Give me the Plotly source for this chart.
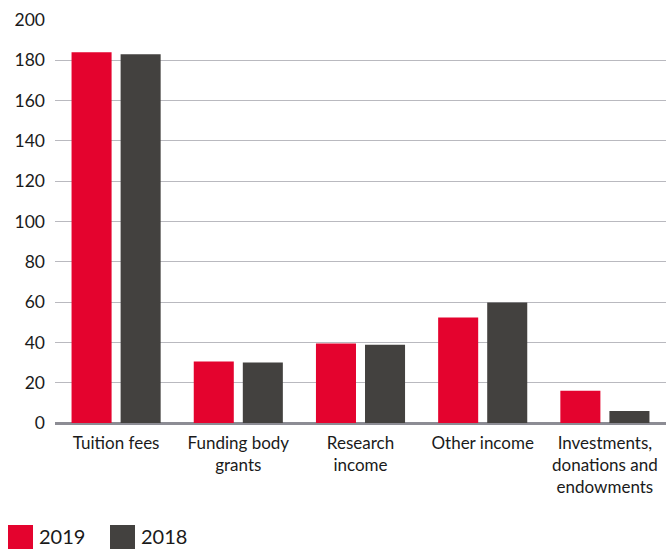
import plotly.graph_objects as go

categories = ["Tuition fees", "Funding body<br>grants", "Research<br>income",
              "Other income", "Investments,<br>donations and<br>endowments"]
values_2019 = [184, 30.5, 39.5, 52.3, 16]
values_2018 = [183, 30, 38.8, 59.8, 6]
series_names = ["2019", "2018"]
colors = ["#E4032E", "#43413F"]
y_ticks = [0, 20, 40, 60, 80, 100, 120, 140, 160, 180, 200]

fig = go.Figure()
for name, vals, col in zip(series_names, [values_2019, values_2018], colors):
    fig.add_trace(go.Bar(x=categories, y=vals, name=name, marker_color=col,
                         marker_line_width=0, showlegend=False))

FONT = "Lato, 'Open Sans', sans-serif"
fig.update_layout(
    width=666, height=549,
    margin=dict(l=55, r=0, t=20, b=126),
    paper_bgcolor="white", plot_bgcolor="white",
    barmode="group", bargap=0.197, bargroupgap=0.184,
    font=dict(family=FONT, color="#1a1a1a", size=17),
    xaxis=dict(showgrid=False, showline=False, ticks="", tickfont=dict(size=17),
               ticklabelstandoff=8),
    yaxis=dict(range=[0, 200], tickvals=y_ticks, showgrid=True, gridcolor="#b9b9bf",
               gridwidth=1.3, zeroline=True, zerolinecolor="#8c8c94", zerolinewidth=2.5,
               tickfont=dict(size=17.5), ticklabelstandoff=9, fixedrange=True),
)

# custom legend (large square swatches)
W, H = 611, 403
def px_x(x):
    return (x - 55) / W
def px_y(y):
    return (423 - y) / H

legend_x = [8, 110]
for name, col, lx in zip(series_names, colors, legend_x):
    fig.add_shape(type="rect", xref="paper", yref="paper",
                  x0=px_x(lx), x1=px_x(lx + 25), y0=px_y(525), y1=px_y(550),
                  fillcolor=col, line_width=0)
    fig.add_annotation(xref="paper", yref="paper", x=px_x(lx + 29), y=px_y(535.5),
                       text=name, showarrow=False, xanchor="left", yanchor="middle",
                       font=dict(size=20, color="#1a1a1a", family=FONT))

fig.write_html("out.html")
